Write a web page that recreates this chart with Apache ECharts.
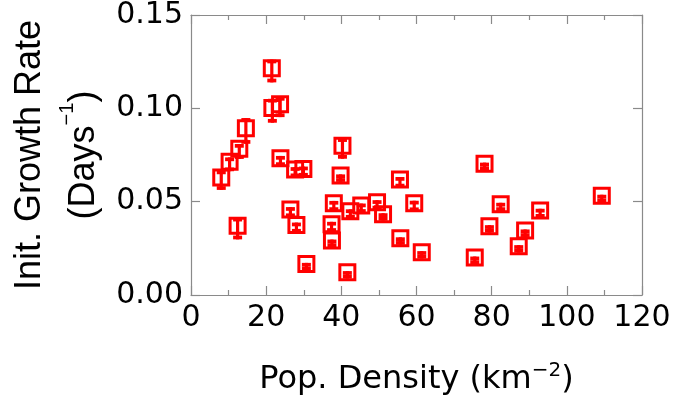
<!DOCTYPE html>
<html>
<head>
<meta charset="utf-8">
<script src="https://cdn.jsdelivr.net/npm/echarts@6/dist/echarts.min.js"></script>
<style>
  html, body { margin: 0; padding: 0; background: #ffffff; }
  #chart { width: 675px; height: 398px; }
</style>
</head>
<body>
<div id="chart"></div>
<script>
// Population density (km^-2) of each region
const density = [
  21.5, 21.65, 23.7, 14.6, 12.85, 10.27, 8.05, 12.4, 23.8, 27.7,
  29.9, 26.45, 28.05, 40.3, 39.8, 38.0, 37.4, 37.5, 41.6, 30.7,
  42.4, 45.3, 49.5, 51.1, 55.7, 55.6, 59.4, 61.4, 75.5, 78.1,
  79.4, 82.4, 92.9, 88.9, 87.2, 109.3
];
// Initial growth rate (days^-1)
const growthRate = [
  0.1200, 0.0987, 0.1007, 0.0879, 0.0769, 0.0700, 0.0615, 0.0356, 0.0718, 0.0658,
  0.0661, 0.0444, 0.0361, 0.0785, 0.0626, 0.0477, 0.0365, 0.0277, 0.0108, 0.0152,
  0.0434, 0.0465, 0.0483, 0.0418, 0.0289, 0.0604, 0.0477, 0.0215, 0.0186, 0.0689,
  0.0354, 0.0472, 0.0438, 0.0331, 0.0247, 0.0517
];
// Half-width of the error bar on each growth rate
const rateError = [
  0.0061, 0.0064, 0.0054, 0.0069, 0.0040, 0.0037, 0.0052, 0.0058, 0.0027, 0.0027,
  0.0027, 0.0027, 0.0027, 0.0055, 0.0020, 0.0027, 0.0027, 0.0020, 0.0020, 0.0020,
  0.0025, 0.0025, 0.0025, 0.0020, 0.0020, 0.0028, 0.0028, 0.0020, 0.0020, 0.0020,
  0.0020, 0.0022, 0.0024, 0.0020, 0.0020, 0.0020
];
// Axis ranges and tick steps
const xRange = [0, 120];
const xStep = 20;
const yRange = [0, 0.15];
const yStep = 0.05;

const points = density.map((d, i) => [d, growthRate[i], rateError[i]]);

const RED = '#ff0000';
const AXIS = '#8a8a8a';

// Hollow square marker with a capped error bar inside it
function renderPoint(params, api) {
  const x = api.value(0), y = api.value(1), e = api.value(2);
  const c = api.coord([x, y]);
  let top = api.coord([x, y + e])[1];
  let bot = api.coord([x, y - e])[1];
  const minH = 7.5;
  if (bot - top < minH) {
    const m = (top + bot) / 2;
    top = m - minH / 2;
    bot = m + minH / 2;
  }
  const capW = 9, capH = 3.75, stemW = 3.2;
  const box = 15, lw = 3, lift = 2.7;
  return {
    type: 'group',
    children: [
      { type: 'rect', shape: { x: c[0] - box / 2, y: c[1] - lift - box / 2, width: box, height: box },
        style: { fill: 'none', stroke: RED, lineWidth: lw } },
      { type: 'rect', shape: { x: c[0] - stemW / 2, y: top, width: stemW, height: bot - top },
        style: { fill: RED } },
      { type: 'rect', shape: { x: c[0] - capW / 2, y: top, width: capW, height: capH },
        style: { fill: RED } },
      { type: 'rect', shape: { x: c[0] - capW / 2, y: bot - capH, width: capW, height: capH },
        style: { fill: RED } }
    ]
  };
}

function frameAxis(pos, withLabels, isX) {
  const a = {
    type: 'value',
    position: pos,
    min: isX ? xRange[0] : yRange[0],
    max: isX ? xRange[1] : yRange[1],
    interval: isX ? xStep : yStep,
    axisLine: { show: true, onZero: false, lineStyle: { color: AXIS, width: 1.2 } },
    axisTick: { show: true, inside: true, length: 9, lineStyle: { color: AXIS, width: 1.2 } },
    splitLine: { show: false },
    axisLabel: withLabels ? {
      show: true, margin: 8, color: '#000', fontFamily: 'DejaVu Sans', fontSize: 30,
      padding: isX ? 0 : [7, 0, 0, 0],
      formatter: isX ? (v => String(v)) : (v => v.toFixed(2))
    } : { show: false }
  };
  if (isX) {
    a.minorTick = { show: true, splitNumber: 2, length: 5, lineStyle: { color: AXIS, width: 1.2 } };
  }
  return a;
}

const xBottom = frameAxis('bottom', true, true);
xBottom.name = 'Pop. Density (km{sup|\u22122})';
xBottom.nameLocation = 'middle';
xBottom.nameGap = 66;
xBottom.nameMoveOverlap = false;
xBottom.nameTextStyle = {
  color: '#000', fontFamily: 'DejaVu Sans', fontSize: 32, lineHeight: 38,
  rich: { sup: { color: '#000', fontFamily: 'DejaVu Sans', fontSize: 20, lineHeight: 26, verticalAlign: 'top' } }
};

const yLeft = frameAxis('left', true, false);
yLeft.name = 'Init. Growth Rate\n(Days{sup|\u22121})';
yLeft.nameLocation = 'middle';
yLeft.nameRotate = 90;
yLeft.nameGap = 80;
yLeft.nameMoveOverlap = false;
yLeft.nameTextStyle = {
  color: '#000', fontFamily: 'Liberation Sans', fontSize: 36, lineHeight: 54,
  rich: { sup: { color: '#000', fontFamily: 'Liberation Sans', fontSize: 20, lineHeight: 22, verticalAlign: 'top' } }
};

const chart = echarts.init(document.getElementById('chart'), null, { renderer: 'canvas' });
chart.setOption({
  animation: false,
  backgroundColor: '#ffffff',
  grid: { left: 191, right: 33, top: 15, bottom: 103, containLabel: false, outerBoundsMode: 'none' },
  xAxis: [xBottom, frameAxis('top', false, true)],
  yAxis: [yLeft, frameAxis('right', false, false)],
  series: [{
    type: 'custom',
    xAxisIndex: 0,
    yAxisIndex: 0,
    renderItem: renderPoint,
    encode: { x: 0, y: 1 },
    data: points
  }]
});
</script>
</body>
</html>
